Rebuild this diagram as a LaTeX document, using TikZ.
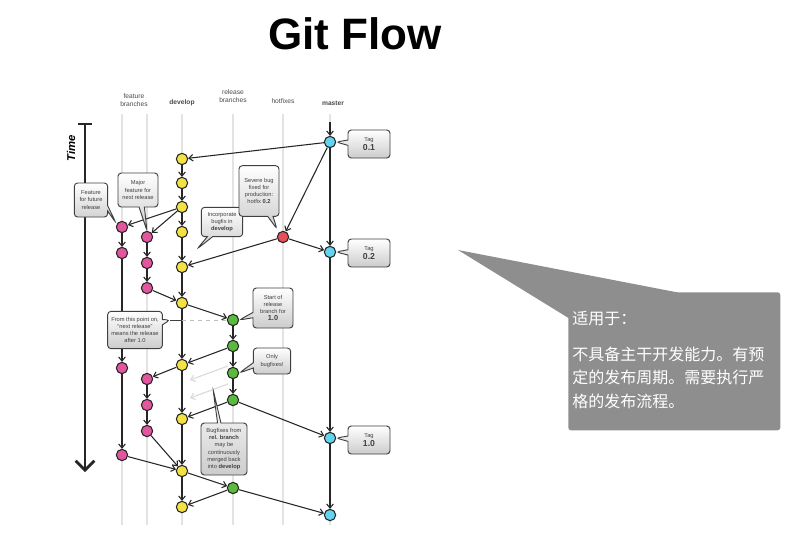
\documentclass[tikz,border=0pt]{standalone}
\usepackage{fontspec}
\setmainfont{Liberation Sans}
\newfontfamily\cjk{Noto Sans CJK SC}
\usetikzlibrary{arrows.meta,shapes.callouts}

\definecolor{cdev}{HTML}{F4E245}
\definecolor{cfeat}{HTML}{E2559F}
\definecolor{crel}{HTML}{5BB93C}
\definecolor{chot}{HTML}{E6505A}
\definecolor{cmaster}{HTML}{62D4EE}
\definecolor{cnote}{HTML}{8E8E8E}

\begin{document}
\begin{tikzpicture}[x=0.75pt, y=-0.75pt,
    commit/.style={circle, draw=black!85, line width=0.8pt, minimum size=8.5pt, inner sep=0pt},
    dev/.style={commit, fill=cdev},
    feat/.style={commit, fill=cfeat},
    rel/.style={commit, fill=crel},
    hot/.style={commit, fill=chot},
    mst/.style={commit, fill=cmaster},
    flow/.style={draw=black!85, line width=0.8pt, -{Straight Barb[length=3pt,width=5pt]}},
    lane/.style={draw=gray!22, line width=1.5pt},
    lbl/.style={font=\fontsize{5}{6.5}\selectfont, text=black!70, align=center},
    bubble/.style={rectangle callout, rounded corners=2.5pt, draw=black!75, line width=0.7pt,
        top color=white, bottom color=gray!40, align=center, text=black!75,
        font=\fontsize{4.3}{5.4}\selectfont, inner sep=1.5pt, callout pointer width=4pt}]
  \useasboundingbox (0,0) rectangle (812,543);
  \fill[white] (0,0) rectangle (812,543);

  % title
  \node[font=\fontsize{33}{36}\selectfont\bfseries] (title) at (355,34) {Git Flow};

  % lanes
  \foreach \x in {122,147,182,233,283,330}
    \draw[lane] (\x,114) -- (\x,525);

  % column labels
  \node[lbl] (lfeat) at (134,100) {feature\\branches};
  \node[lbl, font=\fontsize{5}{6.5}\selectfont\bfseries] (ldev) at (182,103) {develop};
  \node[lbl] (lrel) at (233,96) {release\\branches};
  \node[lbl] (lhot) at (283,101) {hotfixes};
  \node[lbl, font=\fontsize{5}{6.5}\selectfont\bfseries] (lmst) at (333,103) {master};

  % time axis
  \coordinate (t0) at (85,124);
  \coordinate (t1) at (85,472);
  \draw[black!85, line width=2pt] (78,124) -- (92,124);
  \draw[black!85, line width=2pt, -{Straight Barb[length=7pt,width=14pt]}] (t0) -- (t1);
  \node[rotate=90, font=\fontsize{8.5}{10}\selectfont\bfseries\itshape] (time) at (71,148) {Time};

  % commits
  \node[dev] (d1) at (182,159) {};
  \node[dev] (d2) at (182,183) {};
  \node[dev] (d3) at (182,207) {};
  \node[dev] (d4) at (182,232) {};
  \node[dev] (d5) at (182,267) {};
  \node[dev] (d6) at (182,303) {};
  \node[dev] (d7) at (182,365) {};
  \node[dev] (d8) at (182,419) {};
  \node[dev] (d9) at (182,471) {};
  \node[dev] (d10) at (182,507) {};

  \node[feat] (fa1) at (122,227) {};
  \node[feat] (fa2) at (122,253) {};
  \node[feat] (fa3) at (122,368) {};
  \node[feat] (fa4) at (122,455) {};

  \node[feat] (fb1) at (147,237) {};
  \node[feat] (fb2) at (147,263) {};
  \node[feat] (fb3) at (147,288) {};
  \node[feat] (fb4) at (147,379) {};
  \node[feat] (fb5) at (147,405) {};
  \node[feat] (fb6) at (147,431) {};

  \node[rel] (r1) at (233,320) {};
  \node[rel] (r2) at (233,346) {};
  \node[rel] (r3) at (233,373) {};
  \node[rel] (r4) at (233,400) {};
  \node[rel] (r5) at (233,488) {};

  \node[hot] (h1) at (283,237) {};

  \node[mst] (m1) at (330,142) {};
  \node[mst] (m2) at (330,252) {};
  \node[mst] (m3) at (330,438) {};
  \node[mst] (m4) at (330,515) {};

  % connectors
  \coordinate (mtop) at (330,122);
  \draw[flow] (mtop) -- (m1);
  \foreach \a/\b in {d1/d2,d2/d3,d3/d4,d4/d5,d5/d6,d6/d7,d7/d8,d8/d9,d9/d10,
                     m1/d1,m1/h1,m1/m2,h1/m2,h1/d5,m2/m3,m3/m4,
                     d3/fa1,fa1/fa2,fa2/fa3,fa3/fa4,fa4/d9,
                     d3/fb1,fb1/fb2,fb2/fb3,fb3/d6,
                     d7/fb4,fb4/fb5,fb5/fb6,fb6/d9,
                     d6/r1,r1/r2,r2/r3,r3/r4,r2/d7,r4/d8,r4/m3,
                     d9/r5,r5/d10,r5/m4}
    \draw[flow] (\a) -- (\b);

  % faded merges
  \coordinate (g1s) at (228,366);
  \coordinate (g1e) at (190,380);
  \coordinate (g2s) at (228,384);
  \coordinate (g2e) at (190,398);
  \draw[flow, draw=gray!30] (g1s) -- (g1e);
  \draw[flow, draw=gray!30] (g2s) -- (g2e);

  % split point
  \coordinate (fp) at (170,320);
  \coordinate (split) at (182,320);
  \draw[black!75, line width=0.7pt] (fp) -- (split);
  \draw[gray!50, dashed, line width=0.6pt] (split) -- (r1);

  % bubbles
  \node[bubble, minimum width=31.5pt, minimum height=21pt, callout absolute pointer={(m1.east)}]
    (tag1) at (369,144) {Tag\\{\fontsize{6.5}{8}\selectfont\bfseries 0.1}};
  \node[bubble, minimum width=31.5pt, minimum height=21pt, callout absolute pointer={(m2.east)}]
    (tag2) at (369,253) {Tag\\{\fontsize{6.5}{8}\selectfont\bfseries 0.2}};
  \node[bubble, minimum width=31.5pt, minimum height=21pt, callout absolute pointer={(m3.east)}]
    (tag3) at (369,440) {Tag\\{\fontsize{6.5}{8}\selectfont\bfseries 1.0}};
  \node[bubble, minimum width=25pt, minimum height=25.5pt, callout absolute pointer={(116,223)}]
    (bfuture) at (91,200) {Feature\\for future\\release};
  \node[bubble, minimum width=30pt, minimum height=25.5pt, callout absolute pointer={(147,231)}]
    (bmajor) at (138,190) {Major\\feature for\\next release};
  \node[bubble, minimum width=31pt, minimum height=22pt, callout absolute pointer={(197,249)}]
    (bincorp) at (222,222) {Incorporate\\bugfix in\\\textbf{develop}};
  \node[bubble, minimum width=30pt, minimum height=38pt, callout absolute pointer={(277,229)}]
    (bsevere) at (259,191) {Severe bug\\fixed for\\production:\\hotfix \textbf{0.2}};
  \node[bubble, minimum width=41pt, minimum height=28pt, callout absolute pointer={(fp)}]
    (bpoint) at (135,330) {From this point on,\\``next release''\\means the release\\after 1.0};
  \node[bubble, minimum width=30pt, minimum height=30pt, callout absolute pointer={(r1.east)}]
    (bstart) at (273,308) {Start of\\release\\branch for\\{\fontsize{5.5}{6.5}\selectfont\bfseries 1.0}};
  \node[bubble, minimum width=28pt, minimum height=19.5pt, callout absolute pointer={(r3.east)}]
    (bonly) at (272,361) {Only\\bugfixes!};
  \node[bubble, minimum width=34.5pt, minimum height=39pt, callout pointer width=2.5pt,
        callout absolute pointer={(213,389)}]
    (bfix) at (224,449) {Bugfixes from\\\textbf{rel. branch}\\may be\\continuously\\merged back\\into \textbf{develop}};

  % note
  \fill[cnote] (458,250) -- (678,292.5) -- (568.5,318) -- cycle;
  \node[fill=cnote, rounded corners=2pt, minimum width=159pt, minimum height=103.5pt, anchor=north west]
    (note) at (568,292) {};
  \node[anchor=north west, align=left, text=white, inner sep=0pt,
        font=\cjk\fontsize{12}{17.6}\selectfont] (notetext) at (572,311)
    {适用于：\\[9pt]不具备主干开发能力。有预\\定的发布周期。需要执行严\\格的发布流程。};
\end{tikzpicture}
\end{document}
